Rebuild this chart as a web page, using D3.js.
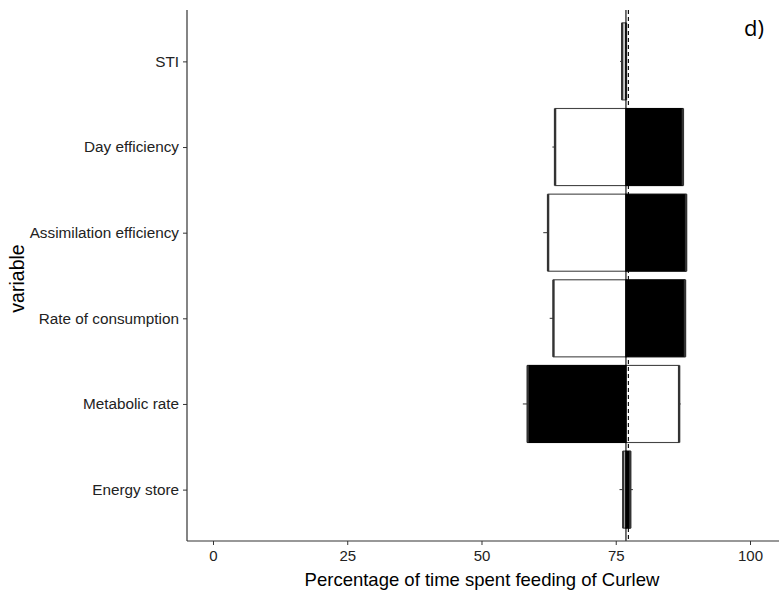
<!DOCTYPE html>
<html>
<head>
<meta charset="utf-8">
<script src="https://cdn.jsdelivr.net/npm/d3@7"></script>
<style>
  html, body { margin: 0; padding: 0; background: #fff; }
  svg { display: block; }
</style>
</head>
<body>
<svg id="chart" width="779" height="594"></svg>
<script>
// ---- data ----
const variables = ["STI", "Day efficiency", "Assimilation efficiency", "Rate of consumption", "Metabolic rate", "Energy store"];
const whiteValues = [76.2, 63.7, 62.4, 63.4, 86.8, 76.4];
const blackValues = [76.9, 87.5, 88.1, 87.9, 58.6, 77.7];
const rangeLow  = [75.8, 63.2, 61.5, 62.7, 57.7, 75.7];
const rangeHigh = [77.0, 87.5, 88.1, 87.9, 87.1, 78.2];
const baseValue = 76.9;
const dashedValue = 77.35;
const xTicks = [0, 25, 50, 75, 100];
const xTickLabels = ["0", "25", "50", "75", "100"];
const xTitle = "Percentage of time spent feeding of Curlew";
const yTitle = "variable";
const panelLabel = "d)";

// ---- layout ----
const svg = d3.select("#chart");
const pLeft = 187, pRight = 779, pTop = 10, pBottom = 541;
const x = d3.scaleLinear().domain([-4.84, 105.4]).range([pLeft, pRight]);
const y = d3.scalePoint().domain(variables).range([pTop, pBottom]).padding(0.6);
const bw = y.step() * 0.9;
const font = "'Liberation Sans', Arial, sans-serif";

const g = svg.append("g");

// range lines (visible as small ticks beyond bar ends)
g.selectAll("line.rng").data(variables).join("line")
  .attr("class", "rng")
  .attr("x1", (d, i) => x(rangeLow[i])).attr("x2", (d, i) => x(rangeHigh[i]))
  .attr("y1", d => y(d)).attr("y2", d => y(d))
  .attr("stroke", "#333").attr("stroke-width", 1);

// bars
function drawBars(vals, fill, cls) {
  g.selectAll("rect." + cls).data(variables).join("rect")
    .attr("class", cls)
    .attr("x", (d, i) => Math.min(x(vals[i]), x(baseValue)))
    .attr("width", (d, i) => Math.abs(x(vals[i]) - x(baseValue)))
    .attr("y", d => y(d) - bw / 2)
    .attr("height", bw)
    .attr("fill", fill)
    .attr("stroke", fill === "#000" ? "#000" : "#444")
    .attr("stroke-width", 1.1);
  g.selectAll("line.edge" + cls).data(variables).join("line")
    .attr("class", "edge" + cls)
    .attr("x1", (d, i) => x(vals[i])).attr("x2", (d, i) => x(vals[i]))
    .attr("y1", d => y(d) - bw / 2).attr("y2", d => y(d) + bw / 2)
    .attr("stroke", "#333").attr("stroke-width", 2.4);
}
drawBars(whiteValues, "#fff", "w");
drawBars(blackValues, "#000", "b");

// reference lines
g.append("line")
  .attr("x1", x(baseValue)).attr("x2", x(baseValue))
  .attr("y1", pTop).attr("y2", pBottom)
  .attr("stroke", "#000").attr("stroke-width", 1.1);
g.append("line")
  .attr("x1", x(dashedValue)).attr("x2", x(dashedValue))
  .attr("y1", pTop).attr("y2", pBottom)
  .attr("stroke", "#000").attr("stroke-width", 1.1)
  .attr("stroke-dasharray", "4,3");

// axes
const xAxis = d3.axisBottom(x).tickValues(xTicks).tickFormat((d, i) => xTickLabels[i]).tickSize(4).tickPadding(5);
const gx = svg.append("g").attr("transform", `translate(0,${pBottom})`).call(xAxis);
gx.select(".domain").attr("d", `M${pLeft},0H${pRight}`).attr("stroke", "#333").attr("stroke-width", 1.2);
gx.selectAll(".tick line").attr("stroke", "#333");
gx.selectAll(".tick text").attr("font-family", font).attr("font-size", 15).attr("fill", "#222");

const yAxis = d3.axisLeft(y).tickSize(4).tickPadding(4);
const gy = svg.append("g").attr("transform", `translate(${pLeft},0)`).call(yAxis);
gy.select(".domain").attr("d", `M0,${pTop}V${pBottom}`).attr("stroke", "#333").attr("stroke-width", 1.2);
gy.selectAll(".tick line").attr("stroke", "#333");
gy.selectAll(".tick text").attr("font-family", font).attr("font-size", 15.3).attr("fill", "#222");

// titles
svg.append("text")
  .attr("x", (pLeft + pRight) / 2 - 1).attr("y", 586)
  .attr("text-anchor", "middle")
  .attr("font-family", font).attr("font-size", 18.5).attr("fill", "#000")
  .text(xTitle);
svg.append("text")
  .attr("transform", `translate(24,${(pTop + pBottom) / 2 + 3}) rotate(-90)`)
  .attr("text-anchor", "middle")
  .attr("font-family", font).attr("font-size", 19.5).attr("fill", "#000")
  .text(yTitle);
svg.append("text")
  .attr("x", 744).attr("y", 36)
  .attr("font-family", "'Open Sans', 'Liberation Sans', sans-serif").attr("font-size", 22).attr("fill", "#000")
  .text(panelLabel);
</script>
</body>
</html>
